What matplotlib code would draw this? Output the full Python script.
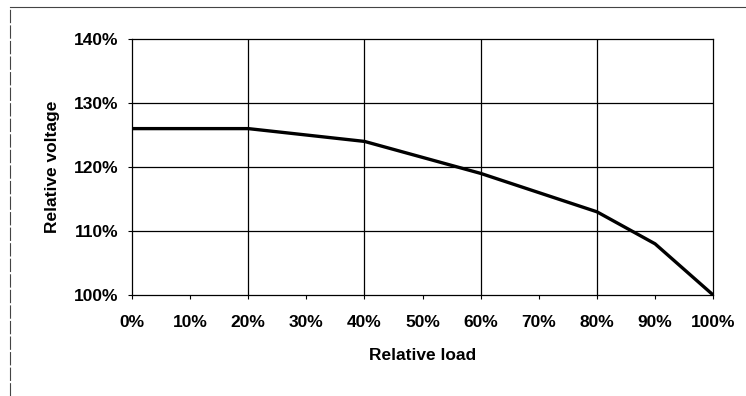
import matplotlib.pyplot as plt
from matplotlib.lines import Line2D
from matplotlib.ticker import FuncFormatter, MultipleLocator

# data
load = [0, 20, 40, 60, 80, 90, 100]          # relative load, %
voltage = [126, 126, 124, 119, 113, 108, 100]  # relative voltage, %

plt.rcParams['font.family'] = ['Liberation Sans', 'DejaVu Sans']

fig = plt.figure(figsize=(7.46, 3.96), dpi=100)
ax = fig.add_axes([0.177, 0.255, 0.779, 0.6465])

ax.plot(load, voltage, color='black', linewidth=2.4, solid_capstyle='butt')

ax.set_xlim(0, 100)
ax.set_ylim(100, 140)
ax.xaxis.set_major_locator(MultipleLocator(10))
ax.yaxis.set_major_locator(MultipleLocator(10))
pct = FuncFormatter(lambda v, p: f"{v:.0f}%")
ax.xaxis.set_major_formatter(pct)
ax.yaxis.set_major_formatter(pct)

# vertical grid only every 20%, horizontal every 10%
for x in range(20, 100, 20):
    ax.axvline(x, color='black', linewidth=0.9)
for y in range(110, 140, 10):
    ax.axhline(y, color='black', linewidth=0.9)

for s in ax.spines.values():
    s.set_linewidth(0.9)

ax.tick_params(direction='out', length=3, width=0.8, labelsize=12.5, pad=7)
for lab in ax.get_xticklabels() + ax.get_yticklabels():
    lab.set_fontweight('bold')
ax.tick_params(axis='x', pad=11.5)

ax.set_xlabel('Relative load', fontsize=12.5, fontweight='bold', labelpad=13)
ax.set_ylabel('Relative voltage', fontsize=12.5, fontweight='bold', labelpad=10)

# outer frame (top and left edges of the scanned chart border)
fig.add_artist(Line2D([10 / 746, 1], [1 - 7 / 396, 1 - 7 / 396],
                      transform=fig.transFigure, color='#444444', linewidth=0.8))
fig.add_artist(Line2D([10 / 746, 10 / 746], [0, 1 - 7 / 396],
                      transform=fig.transFigure, color='#444444', linewidth=0.8,
                      linestyle=(0, (12, 2))))

fig.savefig('out.png', dpi=100)
